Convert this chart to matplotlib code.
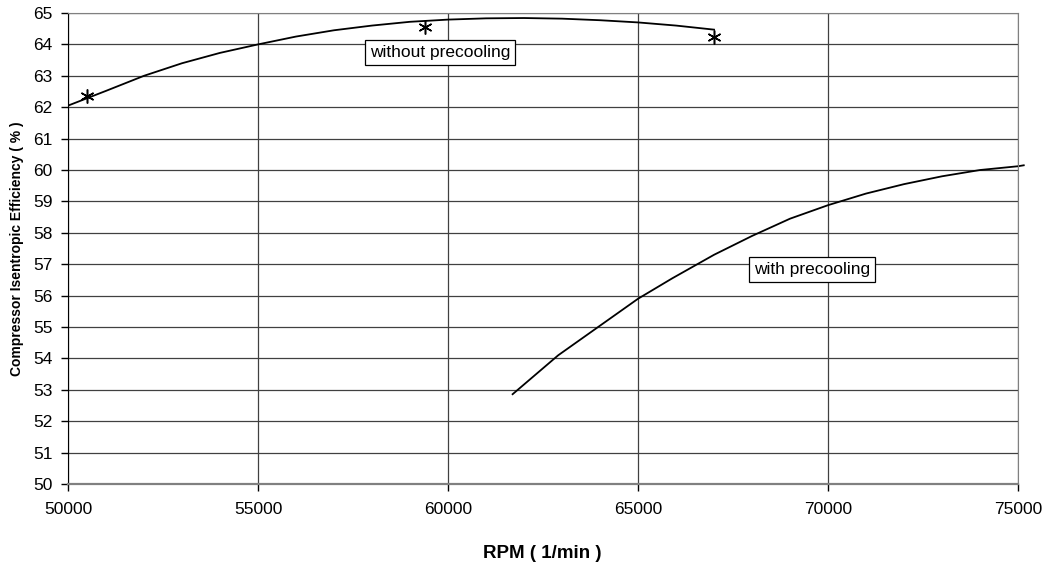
import matplotlib.pyplot as plt

plt.rcParams['font.family'] = ['Liberation Sans', 'DejaVu Sans']

# measured points (without precooling)
rpm_pts = [50500, 59400, 67000]
eff_pts = [62.37, 64.55, 64.24]

# fitted curve without precooling
rpm_sin = [50000, 51000, 52000, 53000, 54000, 55000, 56000, 57000, 58000,
           59000, 60000, 61000, 62000, 63000, 64000, 65000, 66000, 67000]
eff_sin = [62.05, 62.52, 63.0, 63.4, 63.73, 64.0, 64.25, 64.45, 64.6,
           64.72, 64.79, 64.83, 64.84, 64.82, 64.77, 64.7, 64.6, 64.47]

# curve with precooling
rpm_con = [61700, 62900, 63950, 65000, 65900, 67000, 68000, 69000, 70000,
           71000, 72000, 73000, 74000, 75000, 75150]
eff_con = [52.86, 54.1, 55.0, 55.9, 56.55, 57.3, 57.9, 58.45, 58.88,
           59.25, 59.55, 59.8, 60.0, 60.12, 60.15]

fig = plt.figure(figsize=(10.49, 5.63), dpi=100)
ax = fig.add_axes([0.0648, 0.1403, 0.9057, 0.8366])

ax.plot(rpm_sin, eff_sin, color='black', lw=1.3)
ax.plot(rpm_con, eff_con, color='black', lw=1.3, clip_on=False)
ax.plot(rpm_pts, eff_pts, ls='none', marker=(6, 2, 0), ms=10, mew=1.1, color='black')

ax.set_xlim(50000, 75000)
ax.set_ylim(50, 65)
ax.set_xticks(range(50000, 75001, 5000))
ax.set_yticks(range(50, 66))
ax.grid(True, color='#404040', lw=0.9)
ax.set_axisbelow(True)

for s in ['top', 'right']:
    ax.spines[s].set_color('#808080')
ax.spines['left'].set_color('black')
ax.spines['bottom'].set_color('#808080')
ax.spines['bottom'].set_linewidth(1.6)
ax.tick_params(direction='out', length=5, width=1, labelsize=12.5)
ax.tick_params(axis='y', pad=6)
ax.tick_params(axis='x', pad=8)

ax.set_xlabel('RPM ( 1/min )', fontsize=13.5, fontweight='bold', va='center')
ax.xaxis.set_label_coords(0.499, -0.1465)
ax.set_ylabel('Compressor Isentropic Efficiency ( % )', fontsize=10, fontweight='bold', va='center')
ax.yaxis.set_label_coords(-0.0537, 0.5)

caja = dict(boxstyle='square,pad=0.28', fc='white', ec='black', lw=0.9)
ax.text(59790, 63.74, 'without precooling', fontsize=12.5, ha='center', va='center', bbox=caja)
ax.text(69580, 56.83, 'with precooling', fontsize=12.5, ha='center', va='center', bbox=caja)

fig.savefig('out.png', dpi=100)
